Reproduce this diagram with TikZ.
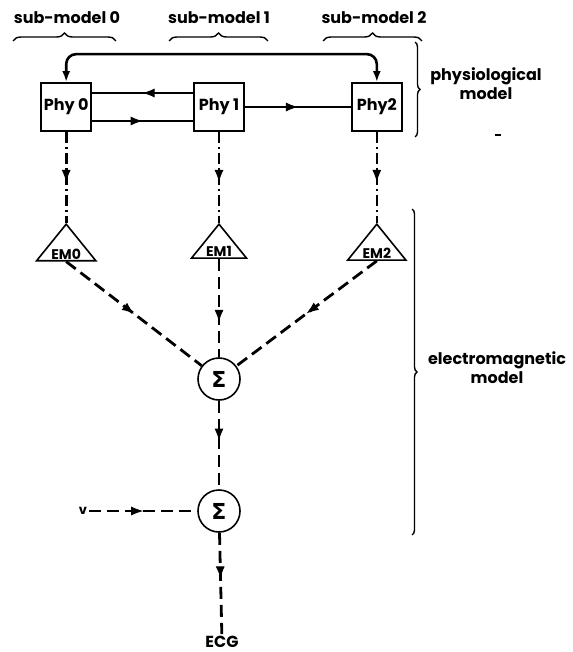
\documentclass[tikz,border=0pt]{standalone}
\usepackage{fontspec}
\setmainfont{Poppins}
\newfontfamily\sigmafont{DejaVu Sans}
\usetikzlibrary{arrows.meta}
\usetikzlibrary{positioning}
\usetikzlibrary{shapes.geometric}
\usetikzlibrary{decorations.pathreplacing}
\usetikzlibrary{decorations.markings}

\tikzset{midarrow/.style={postaction={decorate},
    decoration={markings, mark=at position #1 with {\arrow[solid, line width=1pt]{Latex[length=12pt,width=9pt]}}}}}

\begin{document}
\begin{tikzpicture}[x=1pt, y=-1pt]
  \tikzstyle{phy}=[rectangle, draw, line width=1.8pt, minimum width=50pt, minimum height=48pt, inner sep=0pt, font=\bfseries\fontsize{16}{18}\selectfont]
  \tikzstyle{em}=[isosceles triangle, isosceles triangle apex angle=78, shape border rotate=90, draw, line width=1.6pt, inner xsep=4pt, inner ysep=1.5pt, font=\bfseries\fontsize{14}{16}\selectfont]
  \tikzstyle{sumnode}=[circle, draw, line width=1.6pt, minimum size=42pt, inner sep=0pt, font=\sigmafont\bfseries\fontsize{22}{24}\selectfont]
  \tikzstyle{txt}=[inner sep=2pt, font=\bfseries\fontsize{16}{19}\selectfont]
  \tikzstyle{link}=[line width=2.6pt]
  \tikzstyle{dashlink}=[line width=2.8pt, dash pattern=on 12pt off 6pt]
  \tikzstyle{dotlink}=[line width=2.6pt, dash pattern=on 11pt off 4pt on 2pt off 4pt]
  \tikzstyle{brace}=[decorate, decoration={brace, amplitude=8pt}, line width=1.4pt]
  \useasboundingbox (0,0) rectangle (572,652);

  % sub-models
  \node [phy] at (219,107) (phy1) {Phy 1};
  \node [phy, left=101pt of phy1] (phy0) {Phy 0};
  \node [phy, right=106pt of phy1] (phy2) {Phy2};
  \node [txt] at (67,18) (sub0) {sub-model 0};
  \node [txt] at (219,18) (sub1) {sub-model 1};
  \node [txt] at (374,18) (sub2) {sub-model 2};
  \draw [brace] (13,41) -- (116,41);
  \draw [brace] (169,41) -- (268,41);
  \draw [brace] (323,41) -- (422,41);

  \node [em, anchor=apex] at ([yshift=-91pt]phy0.south) (em0) {EM0};
  \node [em, anchor=apex] at ([yshift=-91pt]phy1.south) (em1) {EM1};
  \node [em, anchor=apex] at ([yshift=-91pt]phy2.south) (em2) {EM2};
  \node [sumnode] at (219,379) (sum1) {Σ};
  \node [sumnode] at (219,511) (sum2) {Σ};
  \node [txt, font=\bfseries\fontsize{13}{15}\selectfont] at (83,511) (v) {v};
  \node [txt] at (222,642) (ecg) {ECG};

  % physiological links
  \draw [link, {Latex[length=11pt,width=8pt]}-{Latex[length=11pt,width=8pt]}, rounded corners=10pt]
    (phy0.north) -- ++(0,-28) -| (phy2.north);
  \draw [link, midarrow=0.5] ([yshift=14pt]phy1.west) -- ([yshift=14pt]phy0.east);
  \draw [link, midarrow=0.5] ([yshift=-14pt]phy0.east) -- ([yshift=-14pt]phy1.west);
  \draw [link, midarrow=0.5] (phy1) -- (phy2);

  % to the electromagnetic model
  \draw [dotlink, midarrow=0.55] (phy0) -- (em0.apex);
  \draw [dotlink, midarrow=0.55] (phy1) -- (em1.apex);
  \draw [dotlink, midarrow=0.55] (phy2) -- (em2.apex);
  \draw [dashlink, midarrow=0.5] (em0.south) -- (sum1);
  \draw [dashlink, midarrow=0.64] (em1.south) -- (sum1);
  \draw [dashlink, midarrow=0.5] (em2.south) -- (sum1);
  \draw [dashlink, midarrow=0.45] (sum1) -- (sum2);
  \draw [dashlink, midarrow=0.5] (v) -- (sum2);
  \draw [dashlink, midarrow=0.45] (sum2) -- (ecg);

  % model braces
  \draw [brace, decoration={brace, amplitude=5pt}] (415,42) -- (415,137);
  \node [txt, align=center] at (486,84) (physcap) {physiological\\model};
  \draw [line width=1.5pt] (495,135) -- (501,135);
  \draw [brace, decoration={brace, amplitude=5pt}] (412,209) -- (412,535);
  \node [txt, align=center] at (497,368) (emcap) {electromagnetic\\model};
\end{tikzpicture}
\end{document}
